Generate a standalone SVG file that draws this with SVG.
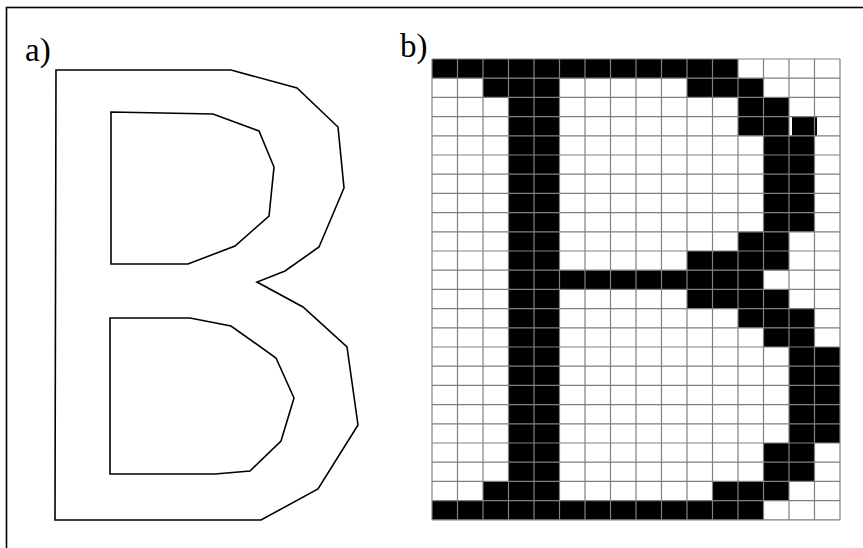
<svg xmlns="http://www.w3.org/2000/svg" width="863" height="548" viewBox="0 0 863 548">
<style>
.lbl{font-family:"Liberation Serif","Times New Roman",serif;font-size:33px;fill:#000}
.outline{fill:none;stroke:#000;stroke-width:1.6;stroke-linejoin:miter}
.px{fill:#000}
.grid{fill:none;stroke:#808080;stroke-width:1.2}
</style>
<rect x="0" y="0" width="863" height="548" fill="#fff"/>
<rect x="6.5" y="7.5" width="870" height="560" fill="none" stroke="#000" stroke-width="1.6"/>
<g id="panel-a">
<text class="lbl" x="25" y="61">a)</text>
<path class="outline" d="M56,70 L231,70 L297,88 L338,127 L344,188 L319,247 L285,271 L257,282 L303,307 L347,347 L358,425 L318,489 L261,520 L55,520 Z"/>
<path class="outline" d="M111,112 L213,114 L259,131 L274,167 L269,216 L235,246 L188,264 L111,264 Z"/>
<path class="outline" d="M110,318 L190,318 L231,326 L276,358 L294,398 L281,441 L250,471 L215,474 L110,474 Z"/>
</g>
<g id="panel-b">
<text class="lbl" x="400" y="57">b)</text>
<rect x="432" y="59" width="408" height="460.8" fill="#fff"/>
<g class="px">
<rect x="432" y="59" width="306" height="19.2"/>
<rect x="483" y="78.2" width="25.5" height="19.2"/>
<rect x="508.5" y="78.2" width="51" height="422.4"/>
<rect x="687" y="78.2" width="76.5" height="19.2"/>
<rect x="738" y="97.4" width="51" height="38.4"/>
<rect x="792" y="116.6" width="25" height="19.2"/>
<rect x="763.5" y="135.8" width="51" height="96"/>
<rect x="738" y="231.8" width="51" height="19.2"/>
<rect x="687" y="251" width="102" height="19.2"/>
<rect x="508.5" y="270.2" width="255" height="19.2"/>
<rect x="687" y="289.4" width="102" height="19.2"/>
<rect x="738" y="308.6" width="76.5" height="19.2"/>
<rect x="763.5" y="327.8" width="51" height="19.2"/>
<rect x="789" y="347" width="51" height="96"/>
<rect x="763.5" y="443" width="51" height="38.4"/>
<rect x="483" y="481.4" width="25.5" height="19.2"/>
<rect x="712.5" y="481.4" width="76.5" height="19.2"/>
<rect x="432" y="500.6" width="331.5" height="19.2"/>
</g>
<path class="grid" d="M432,59V519.8M457.5,59V519.8M483,59V519.8M508.5,59V519.8M534,59V519.8M559.5,59V519.8M585,59V519.8M610.5,59V519.8M636,59V519.8M661.5,59V519.8M687,59V519.8M712.5,59V519.8M738,59V519.8M763.5,59V519.8M789,59V519.8M814.5,59V519.8M840,59V519.8
M432,59H840M432,78.2H840M432,97.4H840M432,116.6H840M432,135.8H840M432,155H840M432,174.2H840M432,193.4H840M432,212.6H840M432,231.8H840M432,251H840M432,270.2H840M432,289.4H840M432,308.6H840M432,327.8H840M432,347H840M432,366.2H840M432,385.4H840M432,404.6H840M432,423.8H840M432,443H840M432,462.2H840M432,481.4H840M432,500.6H840M432,519.8H840"/>
</g>
</svg>
